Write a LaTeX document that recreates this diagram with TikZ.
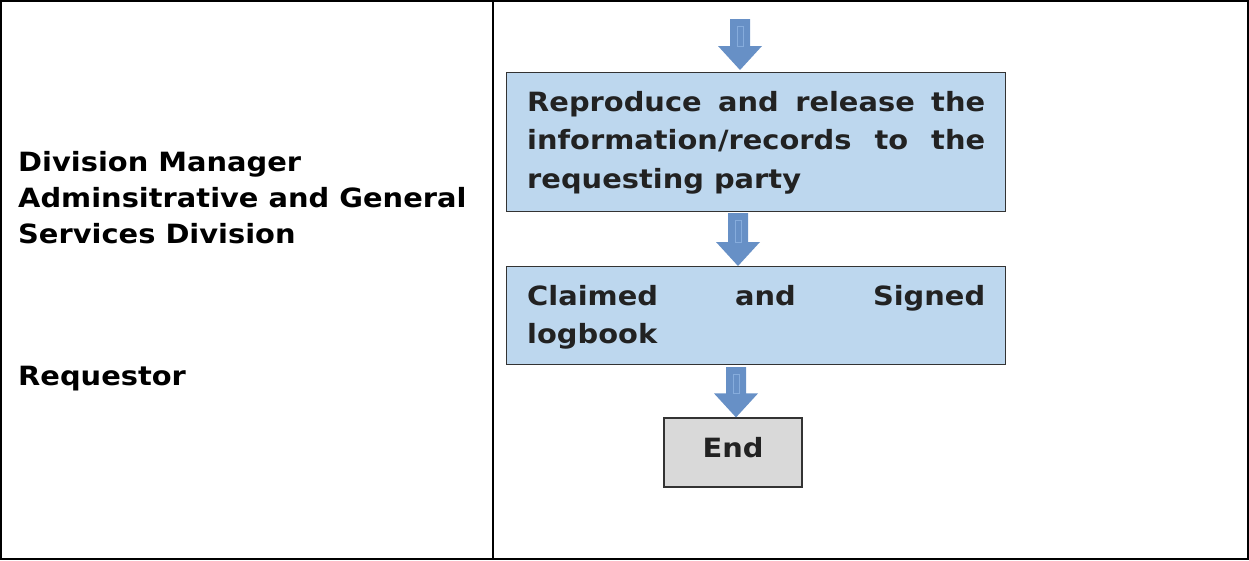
\documentclass[tikz,border=0pt]{standalone}
\usepackage{fontspec}
\setmainfont{DejaVu Sans}[FakeStretch=1.09]
\usetikzlibrary{calc}
\definecolor{boxblue}{HTML}{BDD7EE}
\definecolor{endgray}{HTML}{D9D9D9}
\definecolor{arrowblue}{HTML}{6790C6}
\definecolor{arrowline}{HTML}{86ACDC}
\definecolor{textdark}{HTML}{222222}
\definecolor{boxborder}{HTML}{333333}
\newcommand\myblockarrow[2]{%
  \fill[arrowblue] ($(#1)+(-10,0)$) -- ($(#1)+(10,0)$) -- ($(#2)+(10,-24)$) -- ($(#2)+(22,-24)$) -- (#2) -- ($(#2)+(-22,-24)$) -- ($(#2)+(-10,-24)$) -- cycle;
  \draw[arrowline, line width=0.6pt] ($(#1)+(-3,7)$) rectangle ($(#2)+(3,-24)$);
}
\tikzset{
  lanetext/.style={font=\fontsize{26.5}{36}\selectfont\bfseries, text=black, align=left, inner sep=0pt, anchor=north west},
  boxtext/.style={font=\fontsize{26.5}{38.5}\selectfont\bfseries, text=textdark, align=justify, text width=458pt, inner sep=0pt, anchor=north west},
  procbox/.style={draw=boxborder, line width=1.2pt, fill=boxblue, anchor=north west, inner sep=0pt},
  endbox/.style={draw=boxborder, line width=1.2pt, fill=endgray, inner sep=0pt, font=\fontsize{26.5}{30}\selectfont\bfseries, text=textdark, text height=19pt, text depth=10pt},
}
\begin{document}
\begin{tikzpicture}[x=1pt,y=-1pt]
\useasboundingbox (0,0) rectangle (1249,560);
\draw[line width=2pt] (1,1) rectangle (1248,559);
\draw[line width=2pt] (493,1) -- (493,559);
% lane labels
\node[lanetext] (lane1) at (18,151) {Division Manager\\Adminsitrative and General\\Services Division};
\node[lanetext] (lane2) at (18,366) {Requestor};
% boxes
\node[procbox, minimum width=499pt, minimum height=139pt] (b1) at (506,72) {};
\node[procbox, minimum width=499pt, minimum height=98pt] (b2) at (506,266) {};
\node[endbox, minimum width=138pt, minimum height=69pt] (end) at (733,452.5) {End};
\node[boxtext] (t1) at (527,91) {Reproduce and release the\linebreak information/records to the\linebreak requesting party};
\node[boxtext] (t2) at (527,285) {Claimed and Signed\linebreak logbook};
% arrows
\coordinate (a1s) at (740,19);
\coordinate (a1e) at (740,70);
\coordinate (a2s) at (738,213);
\coordinate (a3s) at (736,367);
\myblockarrow{a1s}{a1e}
\myblockarrow{a2s}{b2.north -| a2s}
\myblockarrow{a3s}{end.north -| a3s}
\end{tikzpicture}
\end{document}
